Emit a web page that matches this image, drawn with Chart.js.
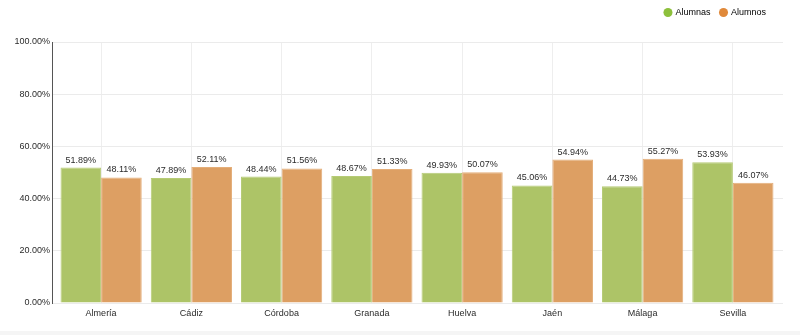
<!DOCTYPE html>
<html>
<head>
<meta charset="utf-8">
<script src="https://cdn.jsdelivr.net/npm/chart.js@4/dist/chart.umd.min.js"></script>
<style>
  html, body { margin: 0; padding: 0; background: #f5f5f5; }
  #wrap { width: 800px; height: 331px; background: #fff; }
</style>
</head>
<body>
<div id="wrap"><canvas id="chart" width="800" height="331"></canvas></div>
<script>
const provincias = ["Almería", "Cádiz", "Córdoba", "Granada", "Huelva", "Jaén", "Málaga", "Sevilla"];
const alumnas = [51.89, 47.89, 48.44, 48.67, 49.93, 45.06, 44.73, 53.93];
const alumnos = [48.11, 52.11, 51.56, 51.33, 50.07, 54.94, 55.27, 46.07];
const yTicks = [0, 20, 40, 60, 80, 100];

const FONT = "'Liberation Sans', Arial, sans-serif";

// percentage written above each bar
const valueLabels = {
  id: "valueLabels",
  afterDatasetsDraw(chart) {
    const ctx = chart.ctx;
    ctx.save();
    ctx.font = "9px " + FONT;
    ctx.fillStyle = "#2b2b2b";
    ctx.textAlign = "center";
    ctx.textBaseline = "bottom";
    chart.data.datasets.forEach((ds, i) => {
      chart.getDatasetMeta(i).data.forEach((bar, j) => {
        ctx.fillText(ds.data[j].toFixed(2) + "%", bar.x, bar.y - 3);
      });
    });
    ctx.restore();
  }
};

// extra room under the legend
const legendGap = {
  id: "legendGap",
  beforeInit(chart) {
    const fit = chart.legend.fit;
    chart.legend.fit = function () {
      fit.call(this);
      this.height += 13;
    };
  }
};

// keep a small gap between the category band and the plot edges,
// and pull the legend a bit in from the right
const xInset = {
  id: "xInset",
  afterLayout(chart) {
    const x = chart.scales.x;
    x.left += 4;
    x.right -= 5;
    x.width = x.right - x.left;
    x.configure();
    chart.legend.right -= 7;
    chart.legend.top -= 2;
  }
};

new Chart(document.getElementById("chart"), {
  type: "bar",
  data: {
    labels: provincias,
    datasets: [
      {
        label: "Alumnas",
        data: alumnas,
        backgroundColor: "#adc467",
        borderColor: "#b6cb76",
        borderWidth: 1,
        categoryPercentage: 0.9,
        barPercentage: 1.0
      },
      {
        label: "Alumnos",
        data: alumnos,
        backgroundColor: "#dd9f63",
        borderColor: "#e4ae79",
        borderWidth: 1,
        categoryPercentage: 0.9,
        barPercentage: 1.0
      }
    ]
  },
  options: {
    responsive: false,
    animation: false,
    layout: { padding: { top: 0, right: 17, bottom: 0, left: 0 } },
    plugins: {
      tooltip: { enabled: false },
      legend: {
        position: "top",
        align: "end",
        labels: {
          usePointStyle: true,
          pointStyle: "circle",
          boxWidth: 6,
          boxHeight: 6.4,
          padding: 10,
          color: "#2b2b2b",
          font: { family: FONT, size: 9 },
          generateLabels(chart) {
            const dots = ["#8dc03c", "#e0893a"];
            return chart.data.datasets.map((ds, i) => ({
              text: ds.label,
              fillStyle: dots[i],
              strokeStyle: dots[i],
              lineWidth: 0,
              pointStyle: "circle",
              datasetIndex: i
            }));
          }
        }
      }
    },
    scales: {
      x: {
        grid: { offset: false, color: "#eeeeee", drawTicks: false },
        border: { display: false },
        ticks: { color: "#2b2b2b", font: { family: FONT, size: 9 }, padding: 5, maxRotation: 0 },
        afterFit(s) { s.height = 28; }
      },
      y: {
        min: 0,
        max: 100,
        afterBuildTicks(s) { s.ticks = yTicks.map(v => ({ value: v })); },
        grid: { color: "#ebebeb", drawTicks: false },
        border: { display: true, color: "#555", width: 1 },
        ticks: {
          color: "#2b2b2b",
          font: { family: FONT, size: 9 },
          padding: 2,
          callback: v => v.toFixed(2) + "%"
        },
        afterFit(s) { s.width = 52; }
      }
    }
  },
  plugins: [legendGap, valueLabels, xInset]
});
</script>
</body>
</html>
